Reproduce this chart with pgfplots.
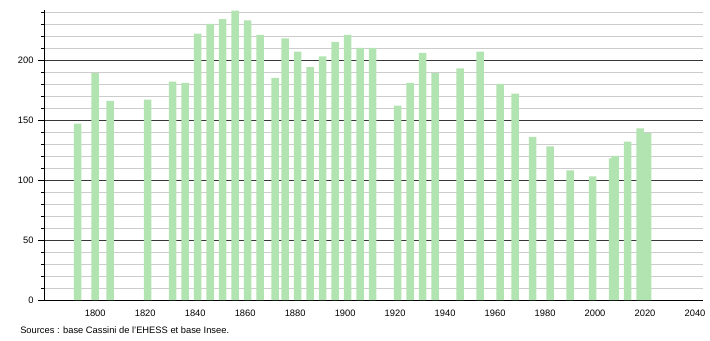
\documentclass[border=0pt]{standalone}
\usepackage{fontspec}
\setmainfont{Liberation Sans}
\usepackage{pgfplots}
\pgfplotsset{compat=1.18}
\definecolor{barg}{RGB}{178,228,178}
\begin{document}
\begin{tikzpicture}
\path[use as bounding box] (0pt,0pt) rectangle (532.5pt,255pt);
\begin{axis}[
  at={(33pt,30pt)}, anchor=south west, scale only axis,
  width=494.25pt, height=217.3pt,
  xmin=1779.5, xmax=2043.2, ymin=0, ymax=241.4,
  axis x line=bottom, axis y line=left,
  axis line style={-, black, line width=0.7pt},
  xtick={1800,1820,...,2040},
  ytick={0,50,100,150,200},
  minor ytick={10,20,30,40,60,70,80,90,110,120,130,140,160,170,180,190,210,220,230,240},
  ymajorgrids, yminorgrids,
  major grid style={color=black!78, line width=0.6pt},
  minor grid style={color=black!20, line width=0.6pt},
  tick align=outside,
  major tick length=4.3pt, minor tick length=2pt,
  tick style={black, line width=0.6pt},
  major x tick style={draw=none},
  /pgf/number format/assume math mode=true,
  /pgf/number format/set thousands separator={},
  tick label style={font=\fontsize{7}{8}\selectfont},
  ybar, bar width=3,
]
\addplot[fill=barg, draw=none] coordinates {
(1793,147) (1800,189) (1806,166) (1821,167) (1831,182) (1836,181)
(1841,222) (1846,230) (1851,234) (1856,241) (1861,233) (1866,221)
(1872,185) (1876,218) (1881,207) (1886,194) (1891,203) (1896,215)
(1901,221) (1906,210) (1911,210) (1921,162) (1926,181) (1931,206)
(1936,189) (1946,193) (1954,207) (1962,180) (1968,172) (1975,136)
(1982,128) (1990,108) (1999,103) (2007,118) (2008,120) (2013,132)
(2018,143) (2021,139)
};
\end{axis}
\node[anchor=west, inner sep=0pt, font=\fontsize{7}{8}\selectfont] at (15pt,7.5pt) {Sources : base Cassini de l'EHESS et base Insee.};
\end{tikzpicture}
\end{document}
